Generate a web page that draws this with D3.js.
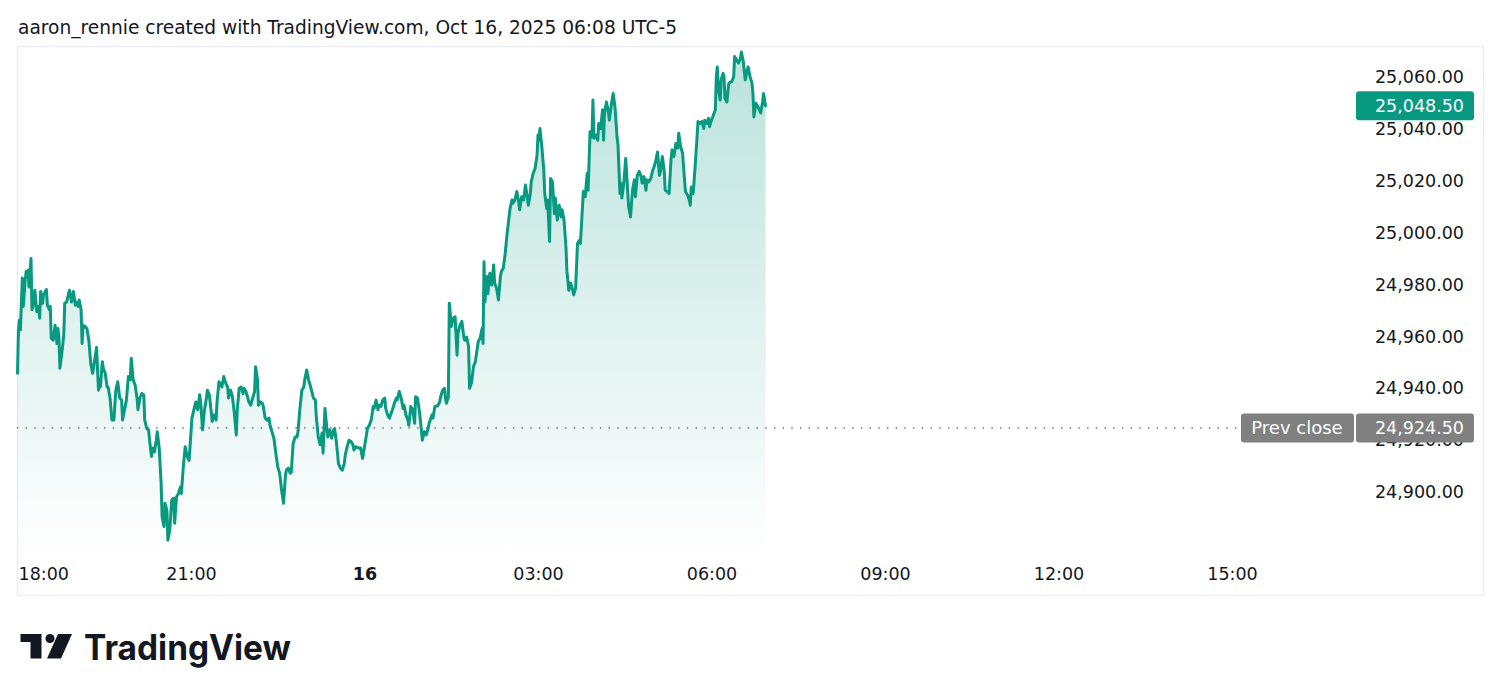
<!DOCTYPE html>
<html>
<head>
<meta charset="utf-8">
<script src="https://cdn.jsdelivr.net/npm/d3@7"></script>
<style>
  html, body { margin: 0; padding: 0; background: #fff; }
  svg { display: block; font-family: "DejaVu Sans", sans-serif; }
</style>
</head>
<body>
<svg id="chart" width="1500" height="699"></svg>
<script>
// minutes after 18:00 (session open), and last price at that minute
const minutes = [
  0,1,2,3,5,6,8,9,10,11,12,14,15,16,18,20,22,23,24,26,27,30,31,33,34,35,37,39,41,42,
  43,44,46,48,49,51,53,54,56,58,60,61,63,64,66,67,68,70,72,74,76,78,80,82,84,85,86,88,89,91,
  93,94,96,98,100,102,104,106,108,109,112,113,115,117,118,120,122,124,125,127,129,131,132,134,136,137,139,140,142,144,
  145,147,149,150,152,153,155,156,158,160,162,163,165,167,169,170,172,174,176,178,181,183,185,187,189,190,192,194,196,197,
  199,201,202,204,206,207,209,211,212,214,216,218,219,221,223,225,227,228,230,232,234,235,237,239,240,242,244,246,247,249,
  250,252,254,255,257,259,261,262,264,266,268,270,272,274,276,278,279,281,283,284,286,288,290,291,293,295,297,298,300,302,
  303,305,307,309,310,312,314,316,317,319,321,322,324,326,328,329,331,333,335,337,339,340,342,344,346,348,349,351,354,356,
  358,360,362,363,365,367,369,370,372,374,375,377,379,381,382,384,386,387,389,391,393,394,396,398,400,401,403,405,406,408,
  410,412,413,415,417,419,420,422,424,426,427,430,431,433,436,438,439,441,443,444,445,447,448,449,450,452,454,456,457,459,
  461,463,464,466,468,469,471,473,475,476,478,480,482,483,484,485,487,488,490,492,494,495,497,499,501,502,504,506,508,509,
  511,513,514,516,518,520,521,523,525,527,528,530,532,533,535,537,539,540,541,542,544,546,547,549,550,552,553,555,557,558,
  560,562,564,565,567,569,570,572,574,576,577,579,581,583,584,585,587,589,591,592,594,596,597,598,600,602,603,605,607,608,
  609,611,613,614,616,618,620,622,623,625,626,627,629,631,633,634,636,638,640,641,643,645,647,648,650,652,653,655,657,659,
  660,662,664,666,667,669,671,672,674,676,678,679,681,683,685,686,688,690,691,693,695,697,698,699,701,703,705,706,708,710,
  712,713,715,717,718,720,722,724,725,726,727,729,730,732,733,734,736,737,738,740,741,743,744,746,748,750,751,753,755,757,
  758,760,762,763,764,766,768,769,771,773,774,776
];
const prices = [
  24945.5,24962.25,24966,24962.25,24982.25,24971.25,24981.5,24984.75,24982.75,24985.25,24978.75,24989.75,24970,24971.25,24977.5,24969.25,24971.25,24966.75,24977,24972.5,24975.75,24977.75,24971.75,24970,24971.25,24959,24958.25,24964,24957,24962.75,
  24959.5,24947.5,24953.25,24960.25,24972.5,24973,24976.25,24977.5,24973,24977,24971.75,24973,24971.25,24973.75,24970,24957,24964,24963.5,24962.75,24958.25,24949.25,24945.5,24950.5,24955.5,24939,24943,24940.25,24950,24947.5,24945.5,
  24940.25,24940.25,24936,24927.5,24927.5,24939,24942.25,24936,24935.25,24927.5,24933.25,24935.25,24944.25,24943,24951.25,24943,24941,24936,24931.5,24936,24937.75,24937.25,24927.5,24924.25,24923.75,24919.75,24913.5,24916.75,24915.25,24919.75,
  24923,24916.75,24903.25,24890.25,24886.5,24895.5,24892.75,24881.25,24885.25,24896.75,24897.5,24887.75,24898,24899.25,24901.75,24899.25,24909.5,24917.25,24913.5,24912,24928.25,24931.5,24934.5,24931.5,24937.25,24934.5,24923.75,24931.5,24936,24939,
  24937.25,24930.75,24927,24929.5,24927.5,24934.5,24942.25,24941,24940.25,24944.25,24941.75,24940.25,24936,24939,24936.5,24930,24921.75,24931.5,24939.75,24940.25,24937.75,24939.75,24938.5,24936,24934.5,24933.25,24936,24938.5,24948,24943,
  24933.25,24934.5,24934,24932.75,24928.25,24927.5,24928.25,24925.5,24923,24920.5,24914.75,24909.5,24907,24900.5,24895.5,24906.25,24908.25,24909,24907,24907.5,24918.5,24921,24921,24923,24932,24939,24940.25,24943,24946.75,24943,
  24941.75,24939,24936,24935.25,24928.75,24921,24918,24922.5,24914.75,24932,24924.25,24921,24923.75,24920.5,24923.75,24924.25,24918.5,24910.75,24909,24908.25,24910.75,24914,24917.25,24919.75,24919.25,24918,24916,24917.25,24916.75,24916.75,
  24912.75,24917.25,24921.75,24924.25,24925.5,24927.5,24932.75,24932,24935.25,24931.5,24933.25,24932.75,24935.25,24936,24932,24929.5,24928.25,24929.5,24931.5,24934,24936,24935.25,24938.5,24936,24932,24933.25,24929.5,24927.5,24925.5,24932.75,
  24931.5,24926.25,24936.5,24936,24930.75,24923.75,24919.75,24923,24921.75,24924.25,24926.25,24929.5,24928.25,24932.75,24933,24934.5,24936.5,24939,24939.75,24936,24934,24936.5,24972.5,24968.5,24963.5,24966.75,24967.25,24952.5,24961,24964,
  24965.5,24959.5,24958.25,24959.5,24955.75,24939.75,24941.75,24948,24950,24952.5,24957.75,24959,24962.75,24957,24988.5,24973,24982.75,24976.25,24984,24979.5,24987.25,24980.25,24978.25,24973.75,24982.75,24984.75,24986,24991.75,24999.5,25002.5,
  25009,25012.25,25011,25012.25,25015.5,25011.5,25008.5,25013.5,25012.25,25018,25015.5,25010.25,25014.75,25019.25,25022.5,25024.5,25029.5,25037.25,25035.25,25039.75,25032.75,25023.75,25014.75,25009,25012.25,24996.25,25020.5,25019.25,25007,25013,
  25004.5,25010.25,25005.75,25008.5,25004.5,24994.25,24984.75,24977.5,24980.25,24977.5,24975.75,24978.25,24995.5,24996.75,24995.5,25002,25015.5,25013.5,25022.5,25016,25038.5,25036.5,25050.75,25036,25037.25,25035.25,25041.75,25039.75,25047,25035.25,
  25045.75,25050,25046.25,25043,25048.75,25053.25,25047.5,25036.5,25033.5,25014.75,25018.75,25013,25018.75,25028.25,25016,25009.75,25005.75,25016,25020,25013.5,25021.75,25023.25,25021.25,25018.75,25021.25,25016,25020,25019.25,25020.5,25023.75,
  25024.5,25027,25030.75,25021.75,25023.25,25029,25023.25,25016,25015.5,25014.75,25027.75,25031.5,25029,25034,25032.25,25038,25032.75,25030.25,25025,25015.5,25014.25,25012.25,25010.25,25017.25,25014.75,25025,25036.5,25042.5,25041.75,25042.5,
  25039.75,25043,25041.75,25043.75,25040.5,25043,25045,25047,25059.75,25063.5,25055.75,25050.75,25058.5,25061,25059.75,25051.5,25050,25054,25057.25,25057.75,25057.75,25059.75,25067.5,25066.25,25065,25066.75,25069.25,25065.5,25058.5,25062.25,
  25063.5,25059.75,25057.25,25053.25,25044.25,25049.5,25048.25,25047.5,25045.75,25050,25053.25,25048.5
];

const timeTicks  = [0, 180, 360, 540, 720, 900, 1080, 1260];
const timeLabels = ["18:00", "21:00", "16", "03:00", "06:00", "09:00", "12:00", "15:00"];
const priceTicks = [24900, 24920, 24940, 24960, 24980, 25000, 25020, 25040, 25060];
const lastPrice = 25048.5;
const prevClose = 24924.5;
const titleText = "aaron_rennie created with TradingView.com, Oct 16, 2025 06:08 UTC-5";

const green = "#089981";
const textColor = "#131722";
const fmt = d3.format(",.2f");

const frame = { left: 17, right: 1483, top: 46, bottom: 595 };
const pane  = { left: 17, right: 1355, top: 46, bottom: 555 };

const svg = d3.select("#chart");

const x = d3.scaleLinear().domain([0, 1260]).range([17.5, 1232]);
const y = d3.scaleLinear().domain([24900, 25060]).range([491.5, 76]);

const data = minutes.map((m, i) => ({ m: m, p: prices[i] }));

// title
svg.append("text")
    .attr("x", 18).attr("y", 33.5)
    .attr("font-size", 18.6)
    .attr("fill", textColor)
    .text(titleText);

// frame
svg.append("rect")
    .attr("x", frame.left + 0.5).attr("y", frame.top + 0.5)
    .attr("width", frame.right - frame.left).attr("height", frame.bottom - frame.top)
    .attr("fill", "#fff").attr("stroke", "#eceef2").attr("stroke-width", 1.5);

// gradient for the area
const defs = svg.append("defs");
const grad = defs.append("linearGradient")
    .attr("id", "areaGrad")
    .attr("gradientUnits", "userSpaceOnUse")
    .attr("x1", 0).attr("x2", 0)
    .attr("y1", y(d3.max(prices))).attr("y2", pane.bottom);
grad.append("stop").attr("offset", 0).attr("stop-color", green).attr("stop-opacity", 0.28);
grad.append("stop").attr("offset", 1).attr("stop-color", green).attr("stop-opacity", 0.0);

const area = d3.area()
    .x(d => x(d.m))
    .y0(pane.bottom)
    .y1(d => y(d.p));

const line = d3.line()
    .x(d => x(d.m))
    .y(d => y(d.p));

svg.append("path")
    .datum(data)
    .attr("d", area)
    .attr("fill", "url(#areaGrad)");

// previous close dotted line
svg.append("line")
    .attr("x1", pane.left).attr("x2", 1240)
    .attr("y1", y(prevClose)).attr("y2", y(prevClose))
    .attr("stroke", "#4f525c")
    .attr("stroke-width", 1.4)
    .attr("stroke-dasharray", "1.4 7.3");

svg.append("path")
    .datum(data)
    .attr("d", line)
    .attr("fill", "none")
    .attr("stroke", green)
    .attr("stroke-width", 3)
    .attr("stroke-linejoin", "round")
    .attr("stroke-linecap", "round");

// price axis
const yAxis = svg.append("g")
    .attr("transform", "translate(1464,0)")
    .call(d3.axisLeft(y).tickValues(priceTicks).tickSize(0).tickPadding(0).tickFormat(fmt));
yAxis.select(".domain").remove();
yAxis.selectAll("text")
    .attr("font-family", "DejaVu Sans, sans-serif")
    .attr("font-size", 17.5)
    .attr("fill", textColor)
    .attr("dy", "0.36em");

// time axis
const xAxis = svg.append("g")
    .attr("transform", `translate(0,${pane.bottom})`)
    .call(d3.axisBottom(x).tickValues(timeTicks).tickSize(0).tickFormat((d, i) => timeLabels[i]));
xAxis.select(".domain").remove();
xAxis.selectAll("text")
    .attr("font-family", "DejaVu Sans, sans-serif")
    .attr("font-size", 17.5)
    .attr("fill", textColor)
    .attr("y", 18.5)
    .attr("dy", "0.36em")
    .attr("font-weight", (d, i) => timeLabels[i] === "16" ? "bold" : "normal");
// keep the first label inside the frame, as TradingView does
xAxis.selectAll("text").each(function(d) {
    const w = this.getComputedTextLength();
    const left = x(d) - w / 2;
    if (left < frame.left + 1) {
        d3.select(this).attr("x", frame.left + 1 + w / 2 - x(d));
    }
});

// last price label
const boxH = 29;
svg.append("rect")
    .attr("x", 1356).attr("y", y(lastPrice) - boxH / 2)
    .attr("width", 118).attr("height", boxH)
    .attr("rx", 3).attr("fill", green);
svg.append("text")
    .attr("x", 1464).attr("y", y(lastPrice))
    .attr("dy", "0.36em")
    .attr("text-anchor", "end")
    .attr("font-size", 17.5)
    .attr("fill", "#fff")
    .text(fmt(lastPrice));

// prev close label
const grey = "#808080";
svg.append("rect")
    .attr("x", 1241).attr("y", y(prevClose) - boxH / 2)
    .attr("width", 113).attr("height", boxH)
    .attr("rx", 3).attr("fill", grey);
svg.append("text")
    .attr("x", 1297).attr("y", y(prevClose))
    .attr("dy", "0.36em")
    .attr("text-anchor", "middle")
    .attr("font-size", 18)
    .attr("fill", "#fff")
    .text("Prev close");
svg.append("rect")
    .attr("x", 1356).attr("y", y(prevClose) - boxH / 2)
    .attr("width", 118).attr("height", boxH)
    .attr("rx", 3).attr("fill", grey);
svg.append("text")
    .attr("x", 1464).attr("y", y(prevClose))
    .attr("dy", "0.36em")
    .attr("text-anchor", "end")
    .attr("font-size", 17.5)
    .attr("fill", "#fff")
    .text(fmt(prevClose));

// TradingView logo
const logo = svg.append("g").attr("fill", textColor);
logo.append("path").attr("d", "M20.5,634 H41.5 V658.5 H30.5 V642 H20.5 Z");
logo.append("circle").attr("cx", 50).attr("cy", 638.5).attr("r", 4.5);
logo.append("path").attr("d", "M58,634 H72 L61,658.5 H47 Z");
logo.append("text")
    .attr("x", 84).attr("y", 659.5)
    .attr("font-family", "Inter, sans-serif")
    .attr("font-weight", 700)
    .attr("font-size", 35)
    .attr("textLength", 207)
    .attr("lengthAdjust", "spacingAndGlyphs")
    .text("TradingView");
</script>
</body>
</html>
